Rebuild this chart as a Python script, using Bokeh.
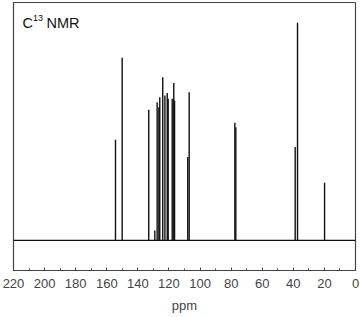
from bokeh.plotting import figure
from bokeh.models import Range1d, Label, ColumnDataSource, FixedTicker
from bokeh.embed import file_html
from bokeh.resources import INLINE

# Peak positions (ppm) and relative intensities (tallest = 100)
peak_ppm = [154.4, 150.1, 133.0, 129.1, 127.6, 126.5, 125.9, 124.0, 122.6,
            121.1, 120.5, 117.9, 116.9, 116.4, 107.9, 107.0, 77.6, 77.0,
            38.8, 37.3, 19.9]
peak_int = [46.3, 83.9, 60.0, 4.6, 63.5, 61.2, 65.8, 75.0, 66.6,
            67.7, 65.1, 65.1, 72.3, 64.3, 38.3, 68.1, 54.1, 52.0,
            42.9, 100.0, 26.5]
baseline_ppm = [220, 0]
baseline_int = [0, 0]
major_ticks = [220, 200, 180, 160, 140, 120, 100, 80, 60, 40, 20, 0]
minor_ticks = [210, 190, 170, 150, 130, 110, 90, 70, 50, 30, 10]

FONT = "Liberation Sans"

p = figure(width=360, height=317, output_backend="svg", toolbar_location=None,
           x_range=Range1d(220, 0), y_range=Range1d(-13.8, 109.3),
           min_border_left=13, min_border_right=5, min_border_top=2,
           min_border_bottom=47)

src = ColumnDataSource(dict(x=peak_ppm, y=peak_int, y0=[0] * len(peak_ppm)))
p.segment(x0="x", y0="y0", x1="x", y1="y", source=src, line_color="#111111",
          line_width=1.4)
p.line(baseline_ppm, baseline_int, line_color="#111111", line_width=1.2)

p.xgrid.visible = False
p.ygrid.visible = False
p.yaxis.visible = False
p.outline_line_color = "#444444"
p.outline_line_width = 1.2

ax = p.xaxis[0]
ax.ticker = FixedTicker(ticks=major_ticks, minor_ticks=minor_ticks)
ax.axis_label = "ppm"
ax.axis_label_text_font = FONT
ax.axis_label_text_font_size = "13px"
ax.axis_label_text_font_style = "normal"
ax.axis_label_standoff = 7
ax.major_label_text_font = FONT
ax.major_label_text_font_size = "13px"
ax.major_label_standoff = 8
ax.major_tick_in = 3
ax.major_tick_out = 0
ax.minor_tick_in = 2
ax.minor_tick_out = 0
ax.axis_line_color = "#444444"
ax.major_tick_line_color = "#444444"
ax.minor_tick_line_color = "#444444"

title_parts = [("C", "14.5px", 0, 0), ("13", "9px", 10.5, 5.5), ("NMR", "14.5px", 24, 0)]
for txt, size, dx, dy in title_parts:
    p.add_layout(Label(x=214.2, y=99.7, x_offset=dx, y_offset=dy, text=txt,
                       text_font=FONT, text_font_size=size, text_color="#111111",
                       text_baseline="alphabetic"))

open("out.html", "w").write(file_html(p, INLINE))
